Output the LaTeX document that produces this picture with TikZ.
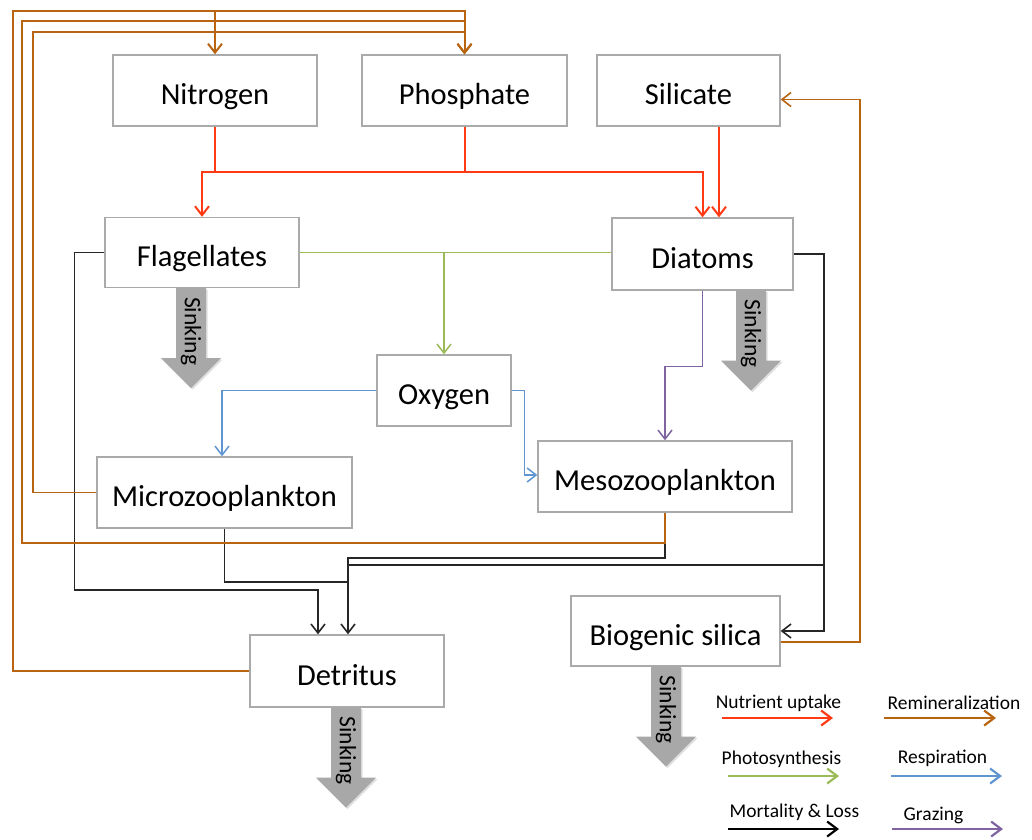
\documentclass[tikz,border=0pt]{standalone}
\usepackage{fontspec}
\setmainfont{Carlito}
\usetikzlibrary{arrows.meta,calc,shadows}
\definecolor{redc}{RGB}{255,58,20}
\definecolor{orng}{RGB}{184,100,16}
\definecolor{grnc}{RGB}{155,187,89}
\definecolor{bluc}{RGB}{95,150,210}
\definecolor{purc}{RGB}{128,100,162}
\definecolor{boxc}{RGB}{170,170,170}
\definecolor{sinkc}{RGB}{168,168,168}
\newcommand\sinkdraw[2]{%
  \begin{scope}[shift={(#1)}]
    \fill[sinkc, drop shadow={opacity=0.25, shadow xshift=1.5pt, shadow yshift=-1.5pt}]
      (-15,0) -- (15,0) -- (15,70) -- (30,70) -- (0,100) -- (-30,70) -- (-15,70) -- cycle;
    \node[rotate=-90, inner sep=0pt, font=\fontsize{23.5}{27}\selectfont] (#2) at (0,43) {Sinking};
  \end{scope}}
\begin{document}
\begin{tikzpicture}[x=1pt,y=-1pt,
  box/.style={draw=boxc, line width=1.4pt, fill=white, inner sep=0pt,
    text height=32pt, text depth=4pt,
    font=\fontsize{30.5}{36}\selectfont},
  conn/.style={line width=1.6pt, -{Straight Barb[length=9pt,width=14pt]}},
  plain/.style={line width=1.6pt},
  legtext/.style={inner sep=0pt, font=\fontsize{19.5}{23}\selectfont},
  legarr/.style={line width=2.2pt, -{Straight Barb[length=10pt,width=15pt]}}]
\fill[white] (0,0) rectangle (1032,839);
\useasboundingbox (0,0) rectangle (1032,839);

% boxes
\node[box, minimum width=204pt, minimum height=71pt] (Nitrogen) at (215,90.5) {Nitrogen};
\node[box, minimum width=205pt, minimum height=71pt] (Phosphate) at (464.5,90.5) {Phosphate};
\node[box, minimum width=183pt, minimum height=71pt] (Silicate) at (688.5,90.5) {Silicate};
\node[box, minimum width=194pt, minimum height=70pt] (Flagellates) at (202,252.5) {Flagellates};
\node[box, minimum width=181pt, minimum height=72pt] (Diatoms) at (702.5,254) {Diatoms};
\node[box, minimum width=134pt, minimum height=71pt] (Oxygen) at (444,390.5) {Oxygen};
\node[box, minimum width=255pt, minimum height=71pt] (Microzooplankton) at (224.5,492.5) {Microzooplankton};
\node[box, minimum width=254pt, minimum height=71pt] (Mesozooplankton) at (665,476.5) {Mesozooplankton};
\node[box, minimum width=209pt, minimum height=70pt] (Biogenicsilica) at (675.5,631) {Biogenic silica};
\node[box, minimum width=194pt, minimum height=72pt] (Detritus) at (347,671) {Detritus};

% coordinates
\coordinate (redbus) at (0,172);
\coordinate (oA) at (13,11);
\coordinate (oB) at (22,21);
\coordinate (oBl) at (22,543);
\coordinate (oC) at (33,32);
\coordinate (bA) at (318,590);
\coordinate (bB) at (348,582);
\coordinate (bC) at (348,558);
\coordinate (bD) at (823,565);

% nutrient uptake (red)
\draw[plain, redc, line width=2pt] (Nitrogen.south) -- (Nitrogen.south |- redbus);
\draw[conn, redc, line width=2pt] (Phosphate.south) -- (Phosphate.south |- redbus) -| (Flagellates.north);
\draw[conn, redc, line width=2pt] (Phosphate.south) -- (Phosphate.south |- redbus) -| (Diatoms.north);
\draw[conn, redc, line width=2pt] ([xshift=30.5pt]Silicate.south) -- ([xshift=30.5pt]Silicate.south |- Diatoms.north);

% photosynthesis (green)
\draw[plain, grnc, line width=1.5pt] (Flagellates.east) -- (Flagellates.east -| Diatoms.west);
\draw[conn, grnc, line width=1.5pt] (Oxygen.north |- Flagellates.east) -- (Oxygen.north);

% respiration (blue)
\draw[conn, bluc, line width=1.5pt] (Oxygen.west) -| ([xshift=-2.5pt]Microzooplankton.north);
\draw[conn, bluc, line width=1.5pt] (Oxygen.east) -- ++(13,0) |- ([yshift=1.5pt]Mesozooplankton.west);

% grazing (purple)
\draw[conn, purc, line width=1.5pt] (Diatoms.south) -- ++(0,76) -| (Mesozooplankton.north);

% mortality & loss (black)
\draw[conn, black!85] (Flagellates.west) -- ++(-30,0) |- (bA) -- (bA |- Detritus.north);
\draw[plain, black!85] (Microzooplankton.south) |- (bB);
\draw[conn, black!85] (Mesozooplankton.south) |- (bC) -- (bC |- Detritus.north);
\draw[conn, black!85] (Diatoms.east) -- ++(30,0) |- (Biogenicsilica.east);
\draw[plain, black!85] (bD) -- (bD -| bC);

% remineralization (brown)
\draw[conn, orng, line width=2pt] (Detritus.west) -| (oA) -| (Phosphate.north);
\draw[conn, orng, line width=2pt] (oA -| Nitrogen.north) -- (Nitrogen.north);
\draw[conn, orng, line width=1.6pt] (Mesozooplankton.south) |- (oBl) -- (oB) -| (Phosphate.north);
\draw[conn, orng, line width=1.6pt] (Microzooplankton.west) -| (oC) -| (Phosphate.north);
\draw[conn, orng, line width=1.6pt] ([yshift=-11pt]Biogenicsilica.east) -- ++(79,0) |- ([yshift=-9pt]Silicate.east);

% sinking arrows
\sinkdraw{[xshift=-11pt]Flagellates.south}{sinkF}
\sinkdraw{[xshift=48.5pt]Diatoms.south}{sinkD}
\sinkdraw{[xshift=-1pt]Detritus.south}{sinkT}
\sinkdraw{[xshift=-9.5pt]Biogenicsilica.south}{sinkB}

% legend
\node[legtext] (Lnu) at (778.5,703) {Nutrient uptake};
\node[legtext] (Lre) at (954,703) {Remineralization};
\node[legtext] (Lph) at (781.5,759) {Photosynthesis};
\node[legtext] (Lrs) at (942.5,758) {Respiration};
\node[legtext] (Lmo) at (794.5,812) {Mortality \& Loss};
\node[legtext] (Lgr) at (933.5,815) {Grazing};
\coordinate (l1a) at (722,718); \coordinate (l1b) at (833,718);
\coordinate (l2a) at (884,718); \coordinate (l2b) at (996,718);
\coordinate (l3a) at (728,776); \coordinate (l3b) at (839,776);
\coordinate (l4a) at (891,776); \coordinate (l4b) at (1002,776);
\coordinate (l5a) at (728,829); \coordinate (l5b) at (839,829);
\coordinate (l6a) at (892,829); \coordinate (l6b) at (1003,829);
\draw[legarr, redc] (l1a) -- (l1b);
\draw[legarr, orng] (l2a) -- (l2b);
\draw[legarr, grnc] (l3a) -- (l3b);
\draw[legarr, bluc] (l4a) -- (l4b);
\draw[legarr, black] (l5a) -- (l5b);
\draw[legarr, purc] (l6a) -- (l6b);
\end{tikzpicture}
\end{document}
